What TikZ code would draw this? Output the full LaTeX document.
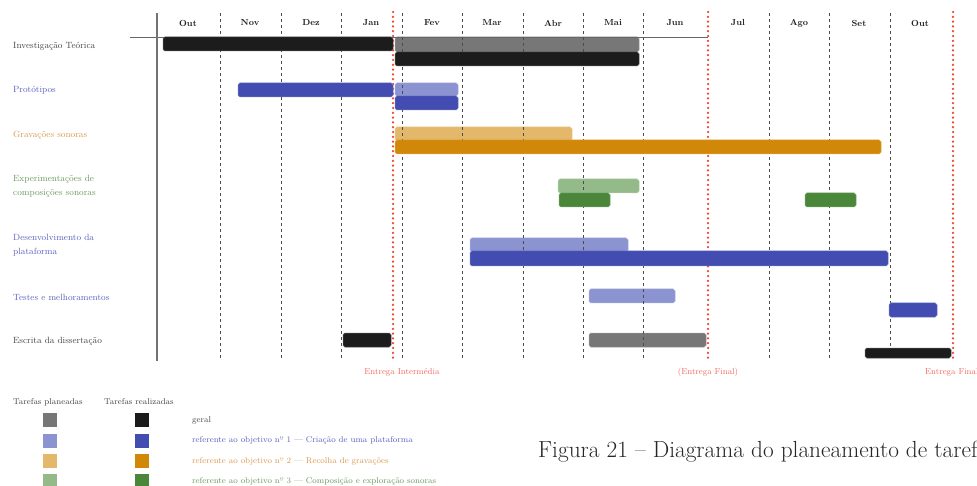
\documentclass[tikz,border=0pt]{standalone}
\usepackage{fontspec}
\definecolor{gplan}{HTML}{777777}
\definecolor{gdone}{HTML}{1C1C1C}
\definecolor{bplan}{HTML}{8C93D1}
\definecolor{bdone}{HTML}{424CB1}
\definecolor{oplan}{HTML}{E4B86B}
\definecolor{odone}{HTML}{D18808}
\definecolor{vplan}{HTML}{95BA8A}
\definecolor{vdone}{HTML}{4A873A}
\definecolor{redl}{HTML}{F2402E}
\definecolor{redt}{HTML}{F06A5E}
\definecolor{lgray}{HTML}{454545}
\definecolor{lblue}{HTML}{5A62C0}
\definecolor{lorange}{HTML}{DA9A4F}
\definecolor{lgreen}{HTML}{6A9A5E}
\newcommand\ganttbar[5]{\filldraw[ganttbox,fill=#1,draw=#1!75!white] (#2,#3) rectangle (#4,#5);}
\begin{document}
\begin{tikzpicture}[x=1pt,y=-1pt,
  ganttbox/.style={rounded corners=1.8pt,line width=0.5pt},
  gridline/.style={draw=black!70,line width=0.8pt,dash pattern=on 2.6pt off 3.4pt},
  redline/.style={draw=redl,line width=2.5pt,line cap=round,dash pattern=on 0pt off 4.8pt},
  monthlbl/.style={font=\fontsize{8.8}{10}\selectfont\bfseries,text=black!88,inner sep=0pt},
  tasklbl/.style={font=\fontsize{9}{14.5}\selectfont,anchor=west,inner sep=0pt,align=left},
  redlbl/.style={font=\fontsize{8.6}{10}\selectfont,text=redt,inner sep=0pt},
  leglbl/.style={font=\fontsize{8.4}{10}\selectfont,anchor=west,inner sep=0pt},
  swatch/.style={minimum width=14pt,minimum height=14pt,inner sep=0pt}]
\useasboundingbox (0,0) rectangle (977,486);
\clip (0,0) rectangle (977,486);

% planned bars
\ganttbar{gplan}{395}{37}{639}{52}
\ganttbar{bplan}{395}{83}{458}{96}
\ganttbar{oplan}{395}{127}{572}{141}
\ganttbar{vplan}{558}{179}{639}{193}
\ganttbar{bplan}{470}{238}{628}{252}
\ganttbar{bplan}{589}{289}{675}{303}
\ganttbar{gplan}{589}{333}{706}{347}

% axes
\draw[black!60,line width=0.8pt] (130,37) -- (708,37);
\draw[black!55,line width=1.3pt] (157,13) -- (157,361);

% grid
\foreach \gx in {220,281,341,402,462,523,583,643,769,829,890}
  \draw[gridline] (\gx,13) -- (\gx,358);
\foreach \gx in {393,708,953}
  \draw[redline] (\gx,12) -- (\gx,362);

% realized bars
\ganttbar{gdone}{163}{37}{393}{51}
\ganttbar{gdone}{395}{52}{639}{66}
\ganttbar{bdone}{238}{83}{393}{97}
\ganttbar{bdone}{395}{96}{458}{110}
\ganttbar{odone}{395}{140}{881}{154}
\ganttbar{vdone}{559}{193}{610}{207}
\ganttbar{vdone}{805}{193}{856}{207}
\ganttbar{bdone}{470}{251}{888}{266}
\ganttbar{bdone}{889}{303}{937}{317}
\ganttbar{gdone}{343}{333}{391}{347}
\ganttbar{gdone}{865}{348}{951}{358}

% months
\node[monthlbl] (m1) at (188,23) {Out};
\node[monthlbl] (m2) at (250,23) {Nov};
\node[monthlbl] (m3) at (311,23) {Dez};
\node[monthlbl] (m4) at (371,23) {Jan};
\node[monthlbl] (m5) at (432,23) {Fev};
\node[monthlbl] (m6) at (492,23) {Mar};
\node[monthlbl] (m7) at (553,23) {Abr};
\node[monthlbl] (m8) at (613,23) {Mai};
\node[monthlbl] (m9) at (675,23) {Jun};
\node[monthlbl] (m10) at (738,23) {Jul};
\node[monthlbl] (m11) at (799,23) {Ago};
\node[monthlbl] (m12) at (859,23) {Set};
\node[monthlbl] (m13) at (920,23) {Out};

% task labels
\node[tasklbl,text=lgray] (t1) at (13,46) {Investigação Teórica};
\node[tasklbl,text=lblue] (t2) at (13,90) {Protótipos};
\node[tasklbl,text=lorange] (t3) at (13,135) {Gravações sonoras};
\node[tasklbl,text=lgreen] (t4) at (13,186.5) {Experimentações de\\composições sonoras};
\node[tasklbl,text=lblue] (t5) at (13,245.5) {Desenvolvimento da\\plataforma};
\node[tasklbl,text=lblue] (t6) at (13,297) {Testes e melhoramentos};
\node[tasklbl,text=lgray] (t7) at (13,341) {Escrita da dissertação};

% milestones
\node[redlbl] (e1) at (402,372) {Entrega Intermédia};
\node[redlbl] (e2) at (708,372) {(Entrega Final)};
\node[redlbl,anchor=west] (e3) at (925,372) {Entrega Final};

% legend
\node[leglbl,text=lgray] (h1) at (13,402) {Tarefas planeadas};
\node[leglbl,text=lgray] (h2) at (104,402) {Tarefas realizadas};
\node[swatch,fill=gplan] (p1) at (50,420) {};
\node[swatch,fill=bplan] (p2) at (50,440.5) {};
\node[swatch,fill=oplan] (p3) at (50,461) {};
\node[swatch,fill=vplan] (p4) at (50,481) {};
\node[swatch,fill=gdone] (r1) at (142,420) {};
\node[swatch,fill=bdone] (r2) at (142,440.5) {};
\node[swatch,fill=odone] (r3) at (142,461) {};
\node[swatch,fill=vdone] (r4) at (142,481) {};
\node[leglbl,text=lgray] (g1) at (192,420) {geral};
\node[leglbl,text=lblue] (g2) at (192,440.5) {referente ao objetivo nº 1 — Criação de uma plataforma};
\node[leglbl,text=lorange] (g3) at (192,461) {referente ao objetivo nº 2 — Recolha de gravações};
\node[leglbl,text=lgreen] (g4) at (192,481) {referente ao objetivo nº 3 — Composição e exploração sonoras};

% caption
\node[anchor=base west,inner sep=0pt,font=\fontsize{23.3}{26}\selectfont,text=black!85] (cap) at (538,457) {Figura 21 – Diagrama do planeamento de tarefas};
\end{tikzpicture}
\end{document}
